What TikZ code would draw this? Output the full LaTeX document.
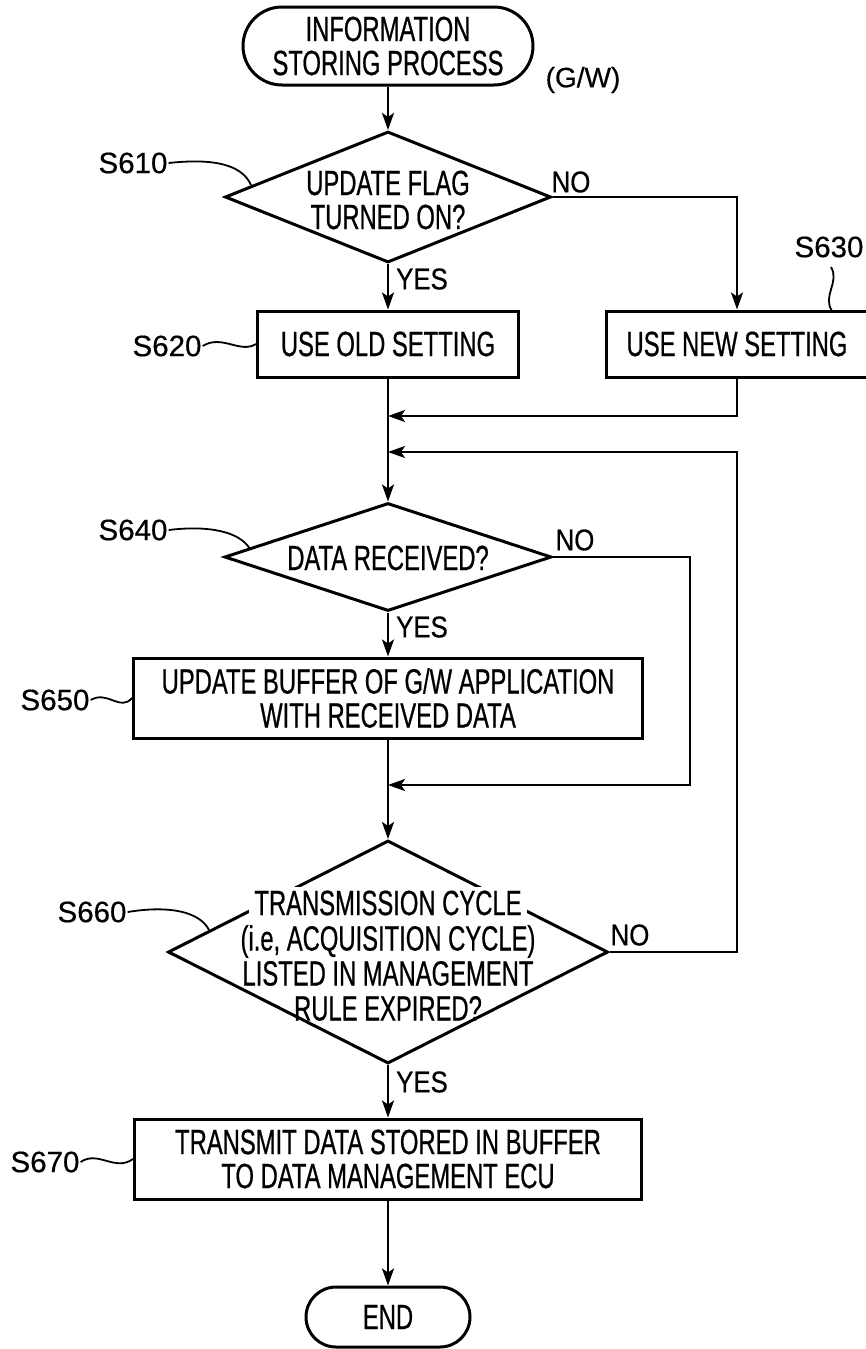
\documentclass[tikz,border=0pt]{standalone}
\usepackage{fontspec}
\setmainfont{Liberation Sans}[FakeStretch=0.68,FakeBold=0.6]
\newfontfamily\lblfont{Liberation Sans}[FakeBold=0.5]
\newfontfamily\ynfont{Liberation Sans}[FakeStretch=0.86,FakeBold=0.5]
\usetikzlibrary{shapes.geometric,arrows.meta}
\begin{document}
\begin{tikzpicture}[x=1pt,y=-1pt,
  every node/.style={font=\fontsize{35}{34}\selectfont},
  arr/.style={line width=2.5pt,-{Stealth[length=17pt,width=12pt,inset=4pt]}},
  procbox/.style={draw,line width=3pt,rectangle,inner sep=0pt,align=center},
  decision/.style={draw,line width=3pt,diamond,inner sep=0pt},
  term/.style={draw,line width=3pt,rectangle,align=center,inner sep=0pt},
  steplbl/.style={font=\lblfont\fontsize{29.5}{34}\selectfont,inner sep=1pt},
  lead/.style={line width=1.8pt},
  ynlbl/.style={font=\ynfont\fontsize{30}{34}\selectfont,inner sep=1pt}]
\useasboundingbox (0,0) rectangle (866,1349);

% shapes
\node[term,rounded corners=39pt,minimum width=290pt,minimum height=78pt] (start) at (388,46) {INFORMATION\\STORING PROCESS};
\node[steplbl,font=\lblfont\fontsize{28}{34}\selectfont] (gw) at (583,80) {(G/W)};

\node[decision,minimum width=326pt,minimum height=131pt] (d610) at (388,197) {};
\node[align=center] (t610) at (388,200) {UPDATE FLAG\\TURNED ON?};

\node[procbox,minimum width=261pt,minimum height=66pt] (b620) at (388,344) {USE OLD SETTING};
\node[procbox,minimum width=262pt,minimum height=66pt] (b630) at (737,344) {USE NEW SETTING};

\node[decision,minimum width=327pt,minimum height=108pt] (d640) at (388,557) {};
\node (t640) at (388,558) {DATA RECEIVED?};

\node[procbox,minimum width=509pt,minimum height=80pt] (b650) at (388,698) {UPDATE BUFFER OF G/W APPLICATION\\WITH RECEIVED DATA};

\node[decision,minimum width=440pt,minimum height=223pt] (d660) at (388,952) {};
\node[fill=white,inner xsep=5pt,inner ysep=4pt] (t660a) at (388,903) {TRANSMISSION CYCLE};
\node[align=center,font=\fontsize{35}{35}\selectfont] (t660b) at (388,973) {(i.e, ACQUISITION CYCLE)\\LISTED IN MANAGEMENT\\RULE EXPIRED?};

\node[procbox,minimum width=507pt,minimum height=80pt] (b670) at (388,1159) {TRANSMIT DATA STORED IN BUFFER\\TO DATA MANAGEMENT ECU};

\node[term,rounded corners=30pt,minimum width=164pt,minimum height=60pt] (end) at (388,1317) {END};

% junction coordinates
\coordinate (m1) at (388,416);
\coordinate (m2) at (388,452);
\coordinate (m3) at (388,785);
\coordinate (c1) at (737,452);
\coordinate (c2) at (690,785);

% connectors
\draw[arr] (start.south) -- (d610.north);
\draw[arr] (d610.south) -- (b620.north);
\draw[arr] (d610.east) -| (b630.north);
\draw[arr] (b620.south) -- (d640.north);
\draw[arr] (b630.south) |- (m1);
\draw[arr] (d660.east) -| (c1) -- (m2);
\draw[arr] (d640.south) -- (b650.north);
\draw[arr] (d640.east) -| (c2) -- (m3);
\draw[arr] (b650.south) -- (d660.north);
\draw[arr] (d660.south) -- (b670.north);
\draw[arr] (b670.south) -- (end.north);

% yes / no labels
\node[ynlbl] (n610) at (571,182) {NO};
\node[ynlbl] (y610) at (422,279) {YES};
\node[ynlbl] (n640) at (575,540) {NO};
\node[ynlbl] (y640) at (422,627) {YES};
\node[ynlbl] (n660) at (630,935) {NO};
\node[ynlbl] (y660) at (422,1082) {YES};

% step labels with leaders
\node[steplbl] (s610) at (133,163) {S610};
\coordinate (e610) at (251,185);
\draw[lead] (s610.east) .. controls (215,158) and (242,165) .. (e610);

\node[steplbl] (s620) at (167,346) {S620};
\draw[lead] (s620.east) .. controls (222,334) and (240,354) .. (b620.west);

\node[steplbl] (s630) at (829,247) {S630};
\coordinate (q630) at (831,267);
\coordinate (e630) at (832,311);
\draw[lead] (q630) .. controls (840,282) and (822,296) .. (e630);

\node[steplbl] (s640) at (133,530) {S640};
\coordinate (e640) at (250,549);
\draw[lead] (s640.east) .. controls (210,525) and (240,532) .. (e640);

\node[steplbl] (s650) at (55,700) {S650};
\draw[lead] (s650.east) .. controls (108,690) and (120,712) .. (b650.west);

\node[steplbl] (s660) at (92,912) {S660};
\coordinate (e660) at (209,930);
\draw[lead] (s660.east) .. controls (170,905) and (200,912) .. (e660);

\node[steplbl] (s670) at (45,1162) {S670};
\draw[lead] (s670.east) .. controls (98,1150) and (115,1172) .. (b670.west);
\end{tikzpicture}
\end{document}
